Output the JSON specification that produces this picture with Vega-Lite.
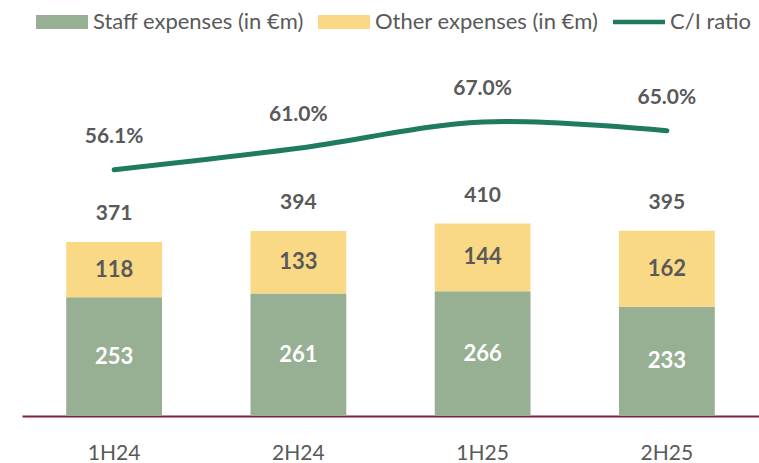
{
  "$schema": "https://vega.github.io/schema/vega-lite/v6.json",
  "autosize": "none",
  "width": 737,
  "height": 366,
  "padding": {"left": 22, "top": 50, "right": 0, "bottom": 47},
  "background": "white",
  "config": {
    "view": {"stroke": null},
    "font": "Lato",
    "axis": {"grid": false}
  },
  "datasets": {
    "bars": [
      {"period": "1H24", "series": "Staff expenses (in €m)", "value": 253},
      {"period": "1H24", "series": "Other expenses (in €m)", "value": 118},
      {"period": "2H24", "series": "Staff expenses (in €m)", "value": 261},
      {"period": "2H24", "series": "Other expenses (in €m)", "value": 133},
      {"period": "1H25", "series": "Staff expenses (in €m)", "value": 266},
      {"period": "1H25", "series": "Other expenses (in €m)", "value": 144},
      {"period": "2H25", "series": "Staff expenses (in €m)", "value": 233},
      {"period": "2H25", "series": "Other expenses (in €m)", "value": 162}
    ],
    "totals": [
      {"period": "1H24", "total": 371, "ci": 0.561},
      {"period": "2H24", "total": 394, "ci": 0.610},
      {"period": "1H25", "total": 410, "ci": 0.670},
      {"period": "2H25", "total": 395, "ci": 0.650}
    ]
  },
  "encoding": {
    "x": {
      "field": "period",
      "type": "nominal",
      "sort": ["1H24", "2H24", "1H25", "2H25"],
      "scale": {"paddingInner": 0.48, "paddingOuter": 0.24},
      "axis": {
        "title": null,
        "labelAngle": 0,
        "ticks": false,
        "domainColor": "#7F1F3F",
        "domainWidth": 2,
        "labelFontSize": 21,
        "labelColor": "#595959",
        "labelPadding": 26
      }
    }
  },
  "layer": [
    {
      "data": {"name": "bars"},
      "layer": [
        {
          "mark": {"type": "bar"},
          "encoding": {
            "y": {"field": "value", "type": "quantitative", "stack": "zero", "scale": {"domain": [0, 780]}, "axis": null},
            "color": {
              "field": "series",
              "type": "nominal",
              "scale": {
                "domain": ["Staff expenses (in €m)", "Other expenses (in €m)", "C/I ratio"],
                "range": ["#97AF93", "#F9D985", "#1E7B5F"]
              },
              "legend": {
                "title": null,
                "orient": "none",
                "direction": "horizontal",
                "legendX": 14,
                "legendY": -54,
                "symbolSize": 2704,
                "labelFontSize": 22,
                "labelColor": "#595959",
                "labelLimit": 400,
                "labelOffset": 5,
                "columnPadding": 14,
                "encode": {
                  "symbols": {
                    "update": {
                      "shape": {"signal": "datum.value === 'C/I ratio' ? 'M-1,-0.09H1V0.09H-1Z' : 'M-1,-0.27H1V0.27H-1Z'"},
                      "fill": {"scale": "color", "field": "value"},
                      "fillOpacity": {"value": 1},
                      "strokeWidth": {"value": 0}
                    }
                  }
                }
              }
            },
            "order": {"field": "series", "sort": "descending"}
          }
        },
        {
          "transform": [
            {"stack": "value", "groupby": ["period"], "sort": [{"field": "series", "order": "descending"}], "as": ["v0", "v1"]},
            {"calculate": "(datum.v0 + datum.v1) / 2", "as": "mid"}
          ],
          "mark": {"type": "text", "fontSize": 22, "fontWeight": "bold", "baseline": "middle"},
          "encoding": {
            "y": {"field": "mid", "type": "quantitative", "scale": {"domain": [0, 780]}, "axis": null},
            "text": {"field": "value", "type": "quantitative"},
            "color": {
              "condition": {"test": "datum.series === 'Staff expenses (in €m)'", "value": "#FFFFFF"},
              "value": "#595959"
            }
          }
        }
      ]
    },
    {
      "data": {"name": "totals"},
      "layer": [
        {
          "mark": {"type": "text", "fontSize": 21, "fontWeight": "bold", "baseline": "middle", "dy": -28, "color": "#595959"},
          "encoding": {
            "y": {"field": "total", "type": "quantitative", "scale": {"domain": [0, 780]}, "axis": null},
            "text": {"field": "total", "type": "quantitative"}
          }
        }
      ]
    },
    {
      "data": {"name": "totals"},
      "layer": [
        {
          "mark": {"type": "line", "interpolate": "catmull-rom", "strokeWidth": 5, "strokeCap": "round"},
          "encoding": {
            "y": {"field": "ci", "type": "quantitative", "scale": {"domain": [0, 0.834]}, "axis": null},
            "color": {"datum": "C/I ratio"}
          }
        },
        {
          "mark": {"type": "text", "fontSize": 21, "fontWeight": "bold", "baseline": "middle", "dy": -33, "color": "#595959"},
          "encoding": {
            "y": {"field": "ci", "type": "quantitative", "scale": {"domain": [0, 0.834]}, "axis": null},
            "text": {"field": "ci", "type": "quantitative", "format": ".1%"}
          }
        }
      ]
    }
  ],
  "resolve": {"scale": {"y": "independent"}}
}
